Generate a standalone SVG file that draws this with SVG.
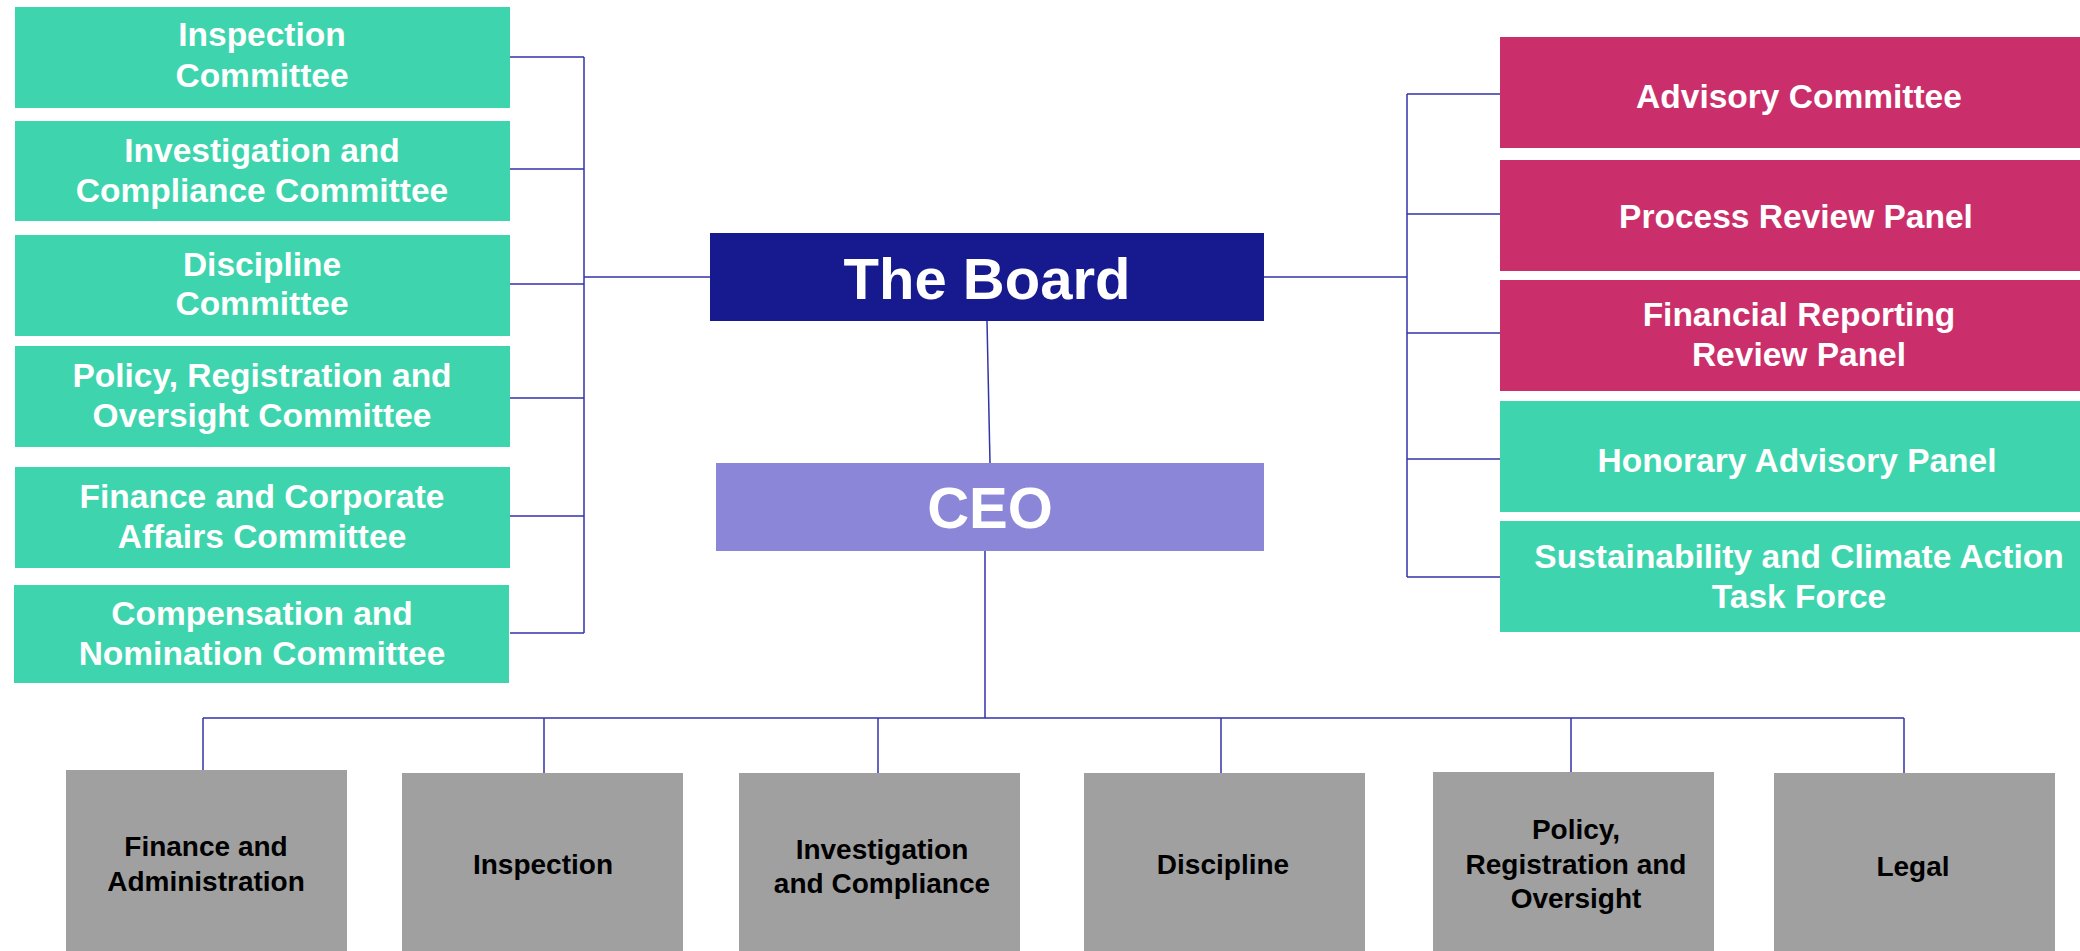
<svg xmlns="http://www.w3.org/2000/svg" width="2080" height="951" viewBox="0 0 2080 951">
<style>
.teal{fill:#3ED4AE}
.mag{fill:#CB2F6B}
.gray{fill:#A0A0A0}
.t{font-family:"Liberation Sans",Arial,sans-serif;font-weight:bold;font-size:33.5px;fill:#FFFFFF;text-anchor:middle}
.b{font-family:"Liberation Sans",Arial,sans-serif;font-weight:bold;font-size:28px;fill:#000000;text-anchor:middle}
.big{font-family:"Liberation Sans",Arial,sans-serif;font-weight:bold;font-size:58px;fill:#FFFFFF;text-anchor:middle}
.ln{stroke:#3333AA;stroke-width:1.5;fill:none}
</style>
<rect width="2080" height="951" fill="#FFFFFF"/>
<g id="connectors" class="ln">
<path d="M584 57V633M510 57H584M510 169H584M510 284H584M510 398H584M510 516H584M510 633H584M584 277H710"/>
<path d="M1407 94V577M1407 94H1500M1407 214H1500M1407 333H1500M1407 459H1500M1407 577H1500M1264 277H1407"/>
<path d="M987 321L990 463"/>
<path d="M985 551V718M203 718H1904M203 718V770M544 718V773M878 718V773M1221 718V773M1571 718V772M1904 718V773"/>
</g>
<g id="board"><rect x="710" y="233" width="554" height="88" fill="#171A8E"/><text class="big" x="987" y="299">The Board</text></g>
<g id="ceo"><rect x="716" y="463" width="548" height="88" fill="#8B86D7"/><text class="big" x="990" y="528">CEO</text></g>
<g id="inspection-committee"><rect class="teal" x="15" y="7" width="495" height="101"/><text class="t" x="262" y="46">Inspection</text><text class="t" x="262" y="87">Committee</text></g>
<g id="investigation-committee"><rect class="teal" x="15" y="121" width="495" height="100"/><text class="t" x="262" y="162">Investigation and</text><text class="t" x="262" y="202">Compliance Committee</text></g>
<g id="discipline-committee"><rect class="teal" x="15" y="235" width="495" height="101"/><text class="t" x="262" y="276">Discipline</text><text class="t" x="262" y="315">Committee</text></g>
<g id="policy-committee"><rect class="teal" x="15" y="346" width="495" height="101"/><text class="t" x="262" y="387">Policy, Registration and</text><text class="t" x="262" y="427">Oversight Committee</text></g>
<g id="finance-committee"><rect class="teal" x="15" y="467" width="495" height="101"/><text class="t" x="262" y="508">Finance and Corporate</text><text class="t" x="262" y="548">Affairs Committee</text></g>
<g id="compensation-committee"><rect class="teal" x="14" y="585" width="495" height="98"/><text class="t" x="262" y="625">Compensation and</text><text class="t" x="262" y="665">Nomination Committee</text></g>
<g id="advisory-committee"><rect class="mag" x="1500" y="37" width="580" height="111"/><text class="t" x="1799" y="108">Advisory Committee</text></g>
<g id="process-review-panel"><rect class="mag" x="1500" y="160" width="580" height="111"/><text class="t" x="1796" y="228">Process Review Panel</text></g>
<g id="financial-reporting-panel"><rect class="mag" x="1500" y="280" width="580" height="111"/><text class="t" x="1799" y="326">Financial Reporting</text><text class="t" x="1799" y="366">Review Panel</text></g>
<g id="honorary-advisory-panel"><rect class="teal" x="1500" y="401" width="580" height="111"/><text class="t" x="1797" y="472">Honorary Advisory Panel</text></g>
<g id="sustainability-task-force"><rect class="teal" x="1500" y="521" width="580" height="111"/><text class="t" x="1799" y="568">Sustainability and Climate Action</text><text class="t" x="1799" y="608">Task Force</text></g>
<g id="finance-admin"><rect class="gray" x="66" y="770" width="281" height="181"/><text class="b" x="206" y="856">Finance and</text><text class="b" x="206" y="891">Administration</text></g>
<g id="inspection"><rect class="gray" x="402" y="773" width="281" height="178"/><text class="b" x="543" y="874">Inspection</text></g>
<g id="investigation"><rect class="gray" x="739" y="773" width="281" height="178"/><text class="b" x="882" y="859">Investigation</text><text class="b" x="882" y="893">and Compliance</text></g>
<g id="discipline"><rect class="gray" x="1084" y="773" width="281" height="178"/><text class="b" x="1223" y="874">Discipline</text></g>
<g id="policy"><rect class="gray" x="1433" y="772" width="281" height="179"/><text class="b" x="1576" y="839">Policy,</text><text class="b" x="1576" y="874">Registration and</text><text class="b" x="1576" y="908">Oversight</text></g>
<g id="legal"><rect class="gray" x="1774" y="773" width="281" height="178"/><text class="b" x="1913" y="876">Legal</text></g>
</svg>
